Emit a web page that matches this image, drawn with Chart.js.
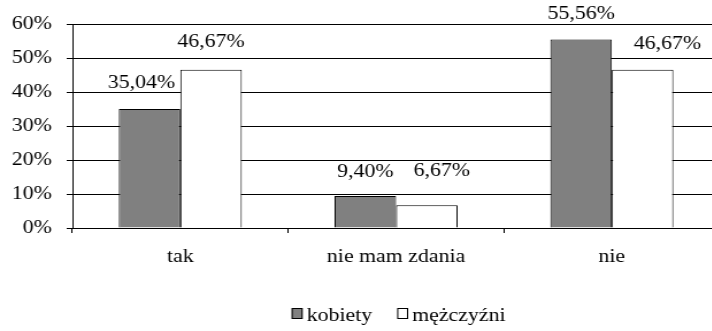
<!DOCTYPE html>
<html>
<head>
<meta charset="utf-8">
<script src="https://cdn.jsdelivr.net/npm/chart.js@4/dist/chart.umd.min.js"></script>
<style>
  html, body { margin: 0; padding: 0; background: #fff; overflow: hidden; }
  #wrap { width: 712px; height: 331px; overflow: hidden; }
  /* the serif face is drawn slightly wide, so the chart is stretched horizontally */
  #stretch { width: 628px; height: 331px; transform: scaleX(1.1497); transform-origin: 0 0; }
  #c { display: block; }
</style>
</head>
<body>
<div id="wrap"><div id="stretch"><canvas id="c" width="628" height="331"></canvas></div></div>
<script>
const categories = ['tak', 'nie mam zdania', 'nie'];
const seriesNames = ['kobiety', 'mężczyźni'];
const kobiety = [35.04, 9.40, 55.56];
const mezczyzni = [46.67, 6.67, 46.67];
const yTicks = [0, 10, 20, 30, 40, 50, 60];

const STRETCH = 1.1497;
const FONT = '19px "Liberation Serif", "Times New Roman", serif';
const fmtPct = v => v.toFixed(2).replace('.', ',') + '%';

Chart.defaults.font.family = '"Liberation Serif", "Times New Roman", serif';
Chart.defaults.font.size = 19;
Chart.defaults.color = '#000';

// value labels above each bar; a few are nudged aside so they clear the neighbouring bar
const valueLabels = {
  id: 'valueLabels',
  afterDatasetsDraw(chart, args, opts) {
    const ctx = chart.ctx;
    ctx.save();
    ctx.font = FONT;
    ctx.fillStyle = '#000';
    ctx.textAlign = 'center';
    ctx.textBaseline = 'middle';
    chart.data.datasets.forEach((ds, i) => {
      chart.getDatasetMeta(i).data.forEach((bar, j) => {
        const n = (opts.nudge[i] && opts.nudge[i][j]) || [0, 0];
        ctx.fillText(fmtPct(ds.data[j]), bar.x + n[0] / STRETCH, bar.y - opts.gap + n[1]);
      });
    });
    ctx.restore();
  }
};

// legend row centred under the plot area
const bottomLegend = {
  id: 'bottomLegend',
  afterDraw(chart, args, opts) {
    const ctx = chart.ctx;
    const area = chart.chartArea;
    ctx.save();
    ctx.font = FONT;
    const box = opts.box / STRETCH, gap = opts.textGap / STRETCH, itemGap = opts.itemGap / STRETCH;
    const items = chart.data.datasets.map(ds => ({ ds, w: ctx.measureText(ds.label).width }));
    const total = items.reduce((s, it) => s + box + gap + it.w, 0) + itemGap * (items.length - 1);
    let x = (area.left + area.right) / 2 + opts.shift / STRETCH - total / 2;
    ctx.textAlign = 'left';
    ctx.textBaseline = 'alphabetic';
    items.forEach(it => {
      ctx.fillStyle = it.ds.backgroundColor;
      ctx.fillRect(x, opts.boxTop, box, opts.box);
      ctx.strokeStyle = '#000';
      ctx.lineWidth = 1;
      ctx.strokeRect(x + 0.5, opts.boxTop + 0.5, box - 1, opts.box - 1);
      ctx.fillStyle = '#000';
      ctx.fillText(it.ds.label, x + box + gap, opts.baseline);
      x += box + gap + it.w + itemGap;
    });
    ctx.restore();
  }
};

new Chart(document.getElementById('c'), {
  type: 'bar',
  data: {
    labels: categories,
    datasets: [
      { label: seriesNames[0], data: kobiety, backgroundColor: '#808080', borderColor: '#000', borderWidth: 1 },
      { label: seriesNames[1], data: mezczyzni, backgroundColor: '#ffffff', borderColor: '#000', borderWidth: 1 }
    ]
  },
  options: {
    responsive: false,
    animation: false,
    devicePixelRatio: 1,
    layout: { padding: { top: 24, right: 2, left: 0, bottom: 35 } },
    datasets: { bar: { categoryPercentage: 0.57, barPercentage: 1 } },
    scales: {
      x: {
        offset: true,
        grid: { offset: true, drawOnChartArea: false, drawTicks: true, tickLength: 5, color: '#000' },
        border: { display: true, color: '#000', width: 1 },
        ticks: { padding: 13, font: { size: 19 } },
        afterFit(scale) { scale.height = 68; }
      },
      y: {
        min: 0,
        max: yTicks[yTicks.length - 1],
        afterBuildTicks(scale) { scale.ticks = yTicks.map(v => ({ value: v })); },
        grid: { color: '#000', drawTicks: true, tickLength: 5 },
        border: { display: true, color: '#000', width: 1 },
        ticks: { padding: 13, callback: v => v + '%', font: { size: 19 } },
        afterFit(scale) { scale.width = 63; }
      }
    },
    plugins: {
      tooltip: { enabled: false },
      legend: { display: false },
      valueLabels: {
        gap: 26,
        nudge: [
          [[-8, 0], [0, 2], [0, 1]],
          [[0, -2], [15, -8], [25, 0]]
        ]
      },
      bottomLegend: { box: 11, textGap: 4, itemGap: 25, shift: 2.5, boxTop: 308, baseline: 321 }
    }
  },
  plugins: [valueLabels, bottomLegend]
});
</script>
</body>
</html>
